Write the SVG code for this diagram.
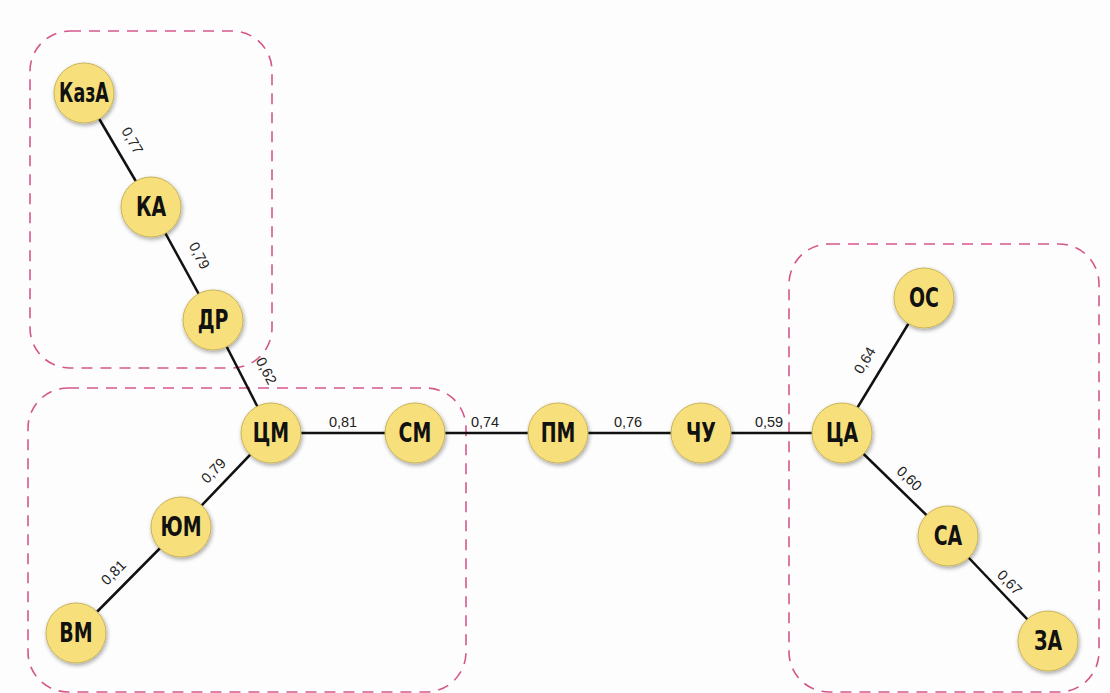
<svg xmlns="http://www.w3.org/2000/svg" width="1110" height="693" viewBox="0 0 1110 693">
<defs>
<filter id="sh" x="-30%" y="-30%" width="160%" height="160%">
<feGaussianBlur in="SourceAlpha" stdDeviation="2"/>
<feOffset dx="1" dy="2"/>
<feComponentTransfer><feFuncA type="linear" slope="0.35"/></feComponentTransfer>
<feMerge><feMergeNode/><feMergeNode in="SourceGraphic"/></feMerge>
</filter>
</defs>
<style>
.grp{fill:none;stroke:#d4578a;stroke-width:1.6;stroke-dasharray:11 8}
.e{stroke:#111;stroke-width:2.5}
.el{font-family:"Liberation Sans",Arial,sans-serif;font-size:14.5px;fill:#222;text-anchor:middle}
.n circle{fill:#f7e07c;stroke:#c8b35a;stroke-width:1;filter:url(#sh)}
.n text{font-family:"DejaVu Sans Condensed","DejaVu Sans",sans-serif;font-weight:bold;font-size:27px;fill:#111;text-anchor:middle;dominant-baseline:central}
</style>
<rect width="1110" height="693" fill="#fdfdfd"/>
<g id="groups">
<rect class="grp" x="30" y="31" width="242" height="337" rx="40"/>
<rect class="grp" x="28" y="388" width="438" height="304" rx="40"/>
<rect class="grp" x="789" y="244" width="310" height="448" rx="40"/>
</g>
<g id="connectors">
<line class="e" x1="84" y1="93" x2="151" y2="207"/>
<line class="e" x1="151" y1="207" x2="213" y2="320"/>
<line class="e" x1="213" y1="320" x2="271" y2="433"/>
<line class="e" x1="271" y1="433" x2="415" y2="433"/>
<line class="e" x1="415" y1="433" x2="558" y2="433"/>
<line class="e" x1="558" y1="433" x2="701" y2="433"/>
<line class="e" x1="701" y1="433" x2="842" y2="433"/>
<line class="e" x1="271" y1="433" x2="181" y2="527"/>
<line class="e" x1="181" y1="527" x2="76" y2="633"/>
<line class="e" x1="842" y1="433" x2="924" y2="298"/>
<line class="e" x1="842" y1="433" x2="948" y2="536"/>
<line class="e" x1="948" y1="536" x2="1048" y2="641"/>
<text class="el" transform="translate(128,143) rotate(60)">0,77</text>
<text class="el" transform="translate(195,258) rotate(62)">0,79</text>
<text class="el" transform="translate(262,373) rotate(63)">0,62</text>
<text class="el" x="343" y="427">0,81</text>
<text class="el" x="485" y="427">0,74</text>
<text class="el" x="628" y="427">0,76</text>
<text class="el" x="769" y="427">0,59</text>
<text class="el" transform="translate(217,474) rotate(-46)">0,79</text>
<text class="el" transform="translate(117,576) rotate(-45)">0,81</text>
<text class="el" transform="translate(869,363) rotate(-59)">0,64</text>
<text class="el" transform="translate(906,482) rotate(44)">0,60</text>
<text class="el" transform="translate(1006,586) rotate(46)">0,67</text>
</g>
<g id="n-kaza" class="n"><circle cx="84" cy="93" r="30"/><text transform="translate(84 93) scale(0.72 1)">КазА</text></g>
<g id="n-ka" class="n"><circle cx="151" cy="207" r="30"/><text transform="translate(151 207) scale(0.78 1)">КА</text></g>
<g id="n-dr" class="n"><circle cx="213" cy="320" r="30"/><text transform="translate(213 320) scale(0.78 1)">ДР</text></g>
<g id="n-cm" class="n"><circle cx="271" cy="433" r="30"/><text transform="translate(271 433) scale(0.78 1)">ЦМ</text></g>
<g id="n-sm" class="n"><circle cx="415" cy="433" r="30"/><text transform="translate(415 433) scale(0.78 1)">СМ</text></g>
<g id="n-pm" class="n"><circle cx="558" cy="433" r="30"/><text transform="translate(558 433) scale(0.78 1)">ПМ</text></g>
<g id="n-chu" class="n"><circle cx="701" cy="433" r="30"/><text transform="translate(701 433) scale(0.78 1)">ЧУ</text></g>
<g id="n-ca" class="n"><circle cx="842" cy="433" r="30"/><text transform="translate(842 433) scale(0.78 1)">ЦА</text></g>
<g id="n-os" class="n"><circle cx="924" cy="298" r="30"/><text transform="translate(924 298) scale(0.78 1)">ОС</text></g>
<g id="n-sa" class="n"><circle cx="948" cy="536" r="30"/><text transform="translate(948 536) scale(0.78 1)">СА</text></g>
<g id="n-za" class="n"><circle cx="1048" cy="641" r="30"/><text transform="translate(1048 641) scale(0.78 1)">ЗА</text></g>
<g id="n-yum" class="n"><circle cx="181" cy="527" r="30"/><text transform="translate(181 527) scale(0.78 1)">ЮМ</text></g>
<g id="n-vm" class="n"><circle cx="76" cy="633" r="30"/><text transform="translate(76 633) scale(0.78 1)">ВМ</text></g>
</svg>
